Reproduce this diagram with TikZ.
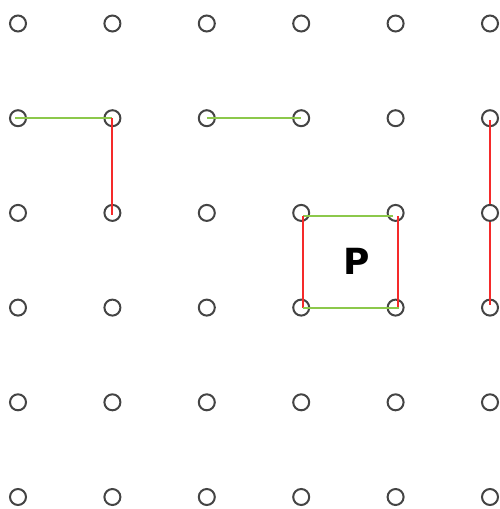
\documentclass[tikz,border=0pt]{standalone}
\usepackage{fontspec}
\setmainfont{Open Sans}
\newfontfamily\pfont{DejaVu Sans}
\definecolor{dotgray}{HTML}{444444}
\definecolor{lgreen}{HTML}{8CC84B}
\definecolor{lred}{HTML}{F52A2A}
\begin{document}
\begin{tikzpicture}[x=1pt,y=-1pt,
  dot/.style={circle,draw=dotgray,line width=2pt,fill=white,minimum size=16pt,inner sep=0pt},
  gline/.style={draw=lgreen,line width=2pt},
  rline/.style={draw=lred,line width=2pt}]
\useasboundingbox (0,0) rectangle (500,509);
\foreach \i in {0,...,5}{
  \foreach \j in {0,...,5}{
    \node[dot] (d-\i-\j) at ({18+94.4*\i},{23.5+94.7*\j}) {};
  }
}
% top-left pair
\draw[gline] ([xshift=-3pt]d-0-1.center) -- (d-1-1.center);
\draw[rline] (d-1-1.center) -- ([yshift=-2pt]d-1-2.center);
% middle top
\draw[gline] (d-2-1.center) -- (d-3-1.center);
% square P
\draw[gline] ([xshift=2pt,yshift=-3pt]d-3-2.center) -- ([xshift=-3pt,yshift=-3pt]d-4-2.center);
\draw[rline] ([xshift=2pt,yshift=-3pt]d-3-2.center) -- ([xshift=2pt]d-3-3.center);
\draw[rline] ([xshift=2pt,yshift=-3pt]d-4-2.center) -- ([xshift=2pt]d-4-3.center);
\draw[gline] ([xshift=2pt]d-3-3.center) -- ([xshift=3pt]d-4-3.center);
\node[font=\pfont\bfseries\fontsize{36}{40}\selectfont] (P) at (357,261) {P};
% right column
\draw[rline] ([yshift=-2pt]d-5-1.center) -- (d-5-2.north);
\draw[rline] (d-5-2.south) -- ([yshift=3pt]d-5-3.center);
\end{tikzpicture}
\end{document}
